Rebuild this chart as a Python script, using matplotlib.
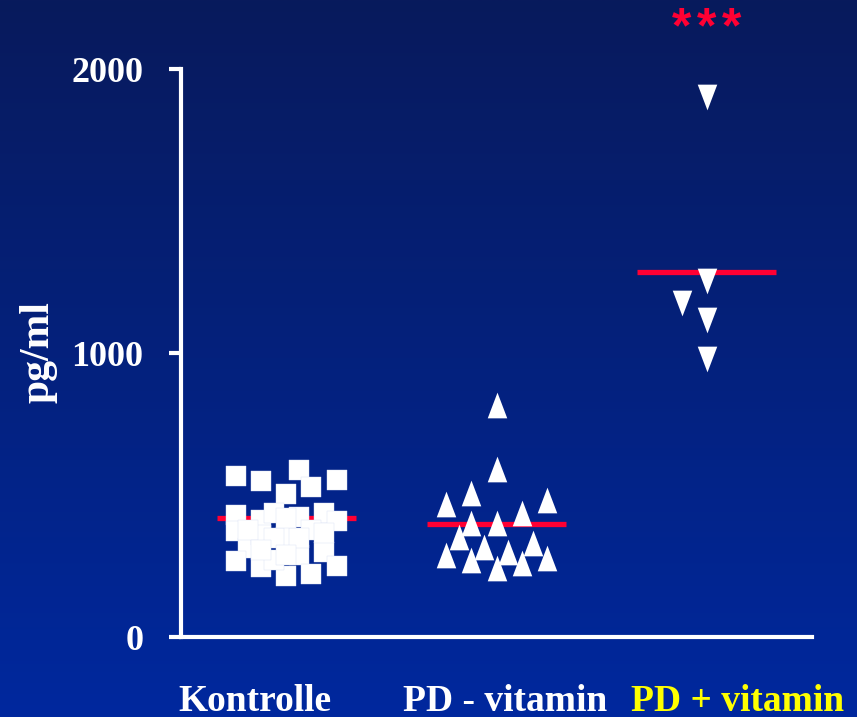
import matplotlib
matplotlib.use("Agg")
import matplotlib.pyplot as plt
import matplotlib.transforms as mtransforms
import numpy as np

# group names and colours of the x labels
groups = ["Kontrolle", "PD - vitamin", "PD + vitamin"]
label_colors = ["white", "white", "#ffff00"]

# Kontrolle (squares): horizontal jitter within the group and values in pg/ml
kontrolle_jitter = [-0.24, -0.12, 0.06, 0.12, 0.24, 0.0,
                    -0.24, -0.12, -0.06, 0.06, 0.18, 0.24,
                    -0.24, -0.18, -0.12, 0.0, 0.12, 0.18, 0.06, -0.06, 0.06,
                    -0.24, -0.12, 0.0, 0.12, 0.24, -0.06, 0.0,
                    -0.18, 0.18, 0.0, -0.12]
kontrolle_vals = [567, 549, 588, 528, 553, 504,
                  430, 412, 437, 423, 437, 408,
                  373, 313, 359, 352, 377, 299, 289, 349, 349,
                  268, 246, 215, 222, 250, 271, 419,
                  377, 366, 289, 306]

# PD - vitamin (up triangles)
pd_minus_jitter = [0.0, 0.0, -0.12, -0.24, 0.24, 0.12, -0.12, 0.0, -0.18,
                   -0.06, 0.055, 0.175, -0.24, -0.12, 0.0, 0.12, 0.24]
pd_minus_vals = [817, 592, 507, 468, 482, 437, 401, 401, 352,
                 317, 299, 331, 289, 271, 243, 261, 278]

# PD + vitamin (down triangles)
pd_plus_jitter = [0.0, 0.0, -0.12, 0.0, 0.0]
pd_plus_vals = [1901, 1254, 1176, 1116, 979]

# group means (red bars)
means = [419, 398, 1285]
star_value = 2095

serif = ["Liberation Serif", "DejaVu Serif"]

fig = plt.figure(figsize=(8.57, 7.17), dpi=100)

# background gradient
bg = fig.add_axes([0, 0, 1, 1], zorder=-10)
grad = np.linspace(0, 1, 256).reshape(-1, 1)
top = np.array([8, 26, 92]) / 255
bottom = np.array([0, 40, 158]) / 255
img = top + (bottom - top) * grad[:, :, None]
bg.imshow(img, aspect="auto", extent=[0, 1, 0, 1])
bg.axis("off")

ax = fig.add_axes([181 / 857, 80 / 717, 631 / 857, 568 / 717])
ax.patch.set_alpha(0)

white = "white"
red = "#ff0033"

# mean bars
for i, m in enumerate(means):
    x = i + 1
    ax.plot([x - 0.33, x + 0.33], [m, m], color=red, lw=3.8,
            solid_capstyle="butt", zorder=2)

up_tri = [(-0.38, -0.5), (0.38, -0.5), (0.0, 0.5)]
down_tri = [(-0.38, 0.5), (0.38, 0.5), (0.0, -0.5)]

ax.scatter(1 + np.array(kontrolle_jitter), kontrolle_vals, marker="s",
           s=14.5 ** 2, color=white, edgecolors="#d8def5", linewidths=0.3,
           zorder=3)
ax.scatter(2 + np.array(pd_minus_jitter), pd_minus_vals, marker=up_tri,
           s=18.5 ** 2, color=white, linewidths=0, zorder=3)
ax.scatter(3 + np.array(pd_plus_jitter), pd_plus_vals, marker=down_tri,
           s=18.5 ** 2, color=white, linewidths=0, zorder=3)

# significance stars, spread out like the original
for dx in (-25, 0, 25):
    tr = ax.transData + mtransforms.ScaledTranslation(dx / 100, 0, fig.dpi_scale_trans)
    ax.text(3, star_value, "*", color=red, fontsize=36, fontweight="bold",
            family=["Liberation Sans", "DejaVu Sans"], ha="center",
            va="baseline", transform=tr, clip_on=False)

ax.set_xlim(0.5, 3.5)
ax.set_ylim(0, 2000)

for s in ["top", "right"]:
    ax.spines[s].set_visible(False)
for s in ["left", "bottom"]:
    ax.spines[s].set_color(white)
    ax.spines[s].set_linewidth(3)

ax.set_yticks([0, 1000, 2000])
ax.set_yticklabels(["0", "1000", "2000"])
ax.tick_params(axis="y", colors=white, length=9, width=3, pad=18,
               labelsize=26)
for lab in ax.get_yticklabels():
    lab.set_fontweight("bold")
    lab.set_family(serif)

ax.set_xticks([1, 2, 3])
ax.set_xticklabels(groups)
ax.tick_params(axis="x", length=0, pad=34, labelsize=27)
offsets = [-31, 9, 31]
for lab, c, dx in zip(ax.get_xticklabels(), label_colors, offsets):
    lab.set_color(c)
    lab.set_fontweight("bold")
    lab.set_family(serif)
    lab.set_transform(lab.get_transform() +
                      mtransforms.ScaledTranslation(dx / 100, 0, fig.dpi_scale_trans))

fig.text(38 / 857, 1 - 352 / 717, "pg/ml", rotation=90, color=white,
         fontsize=30, fontweight="bold", family=serif, ha="center", va="center")

fig.savefig("out.png", dpi=100)
